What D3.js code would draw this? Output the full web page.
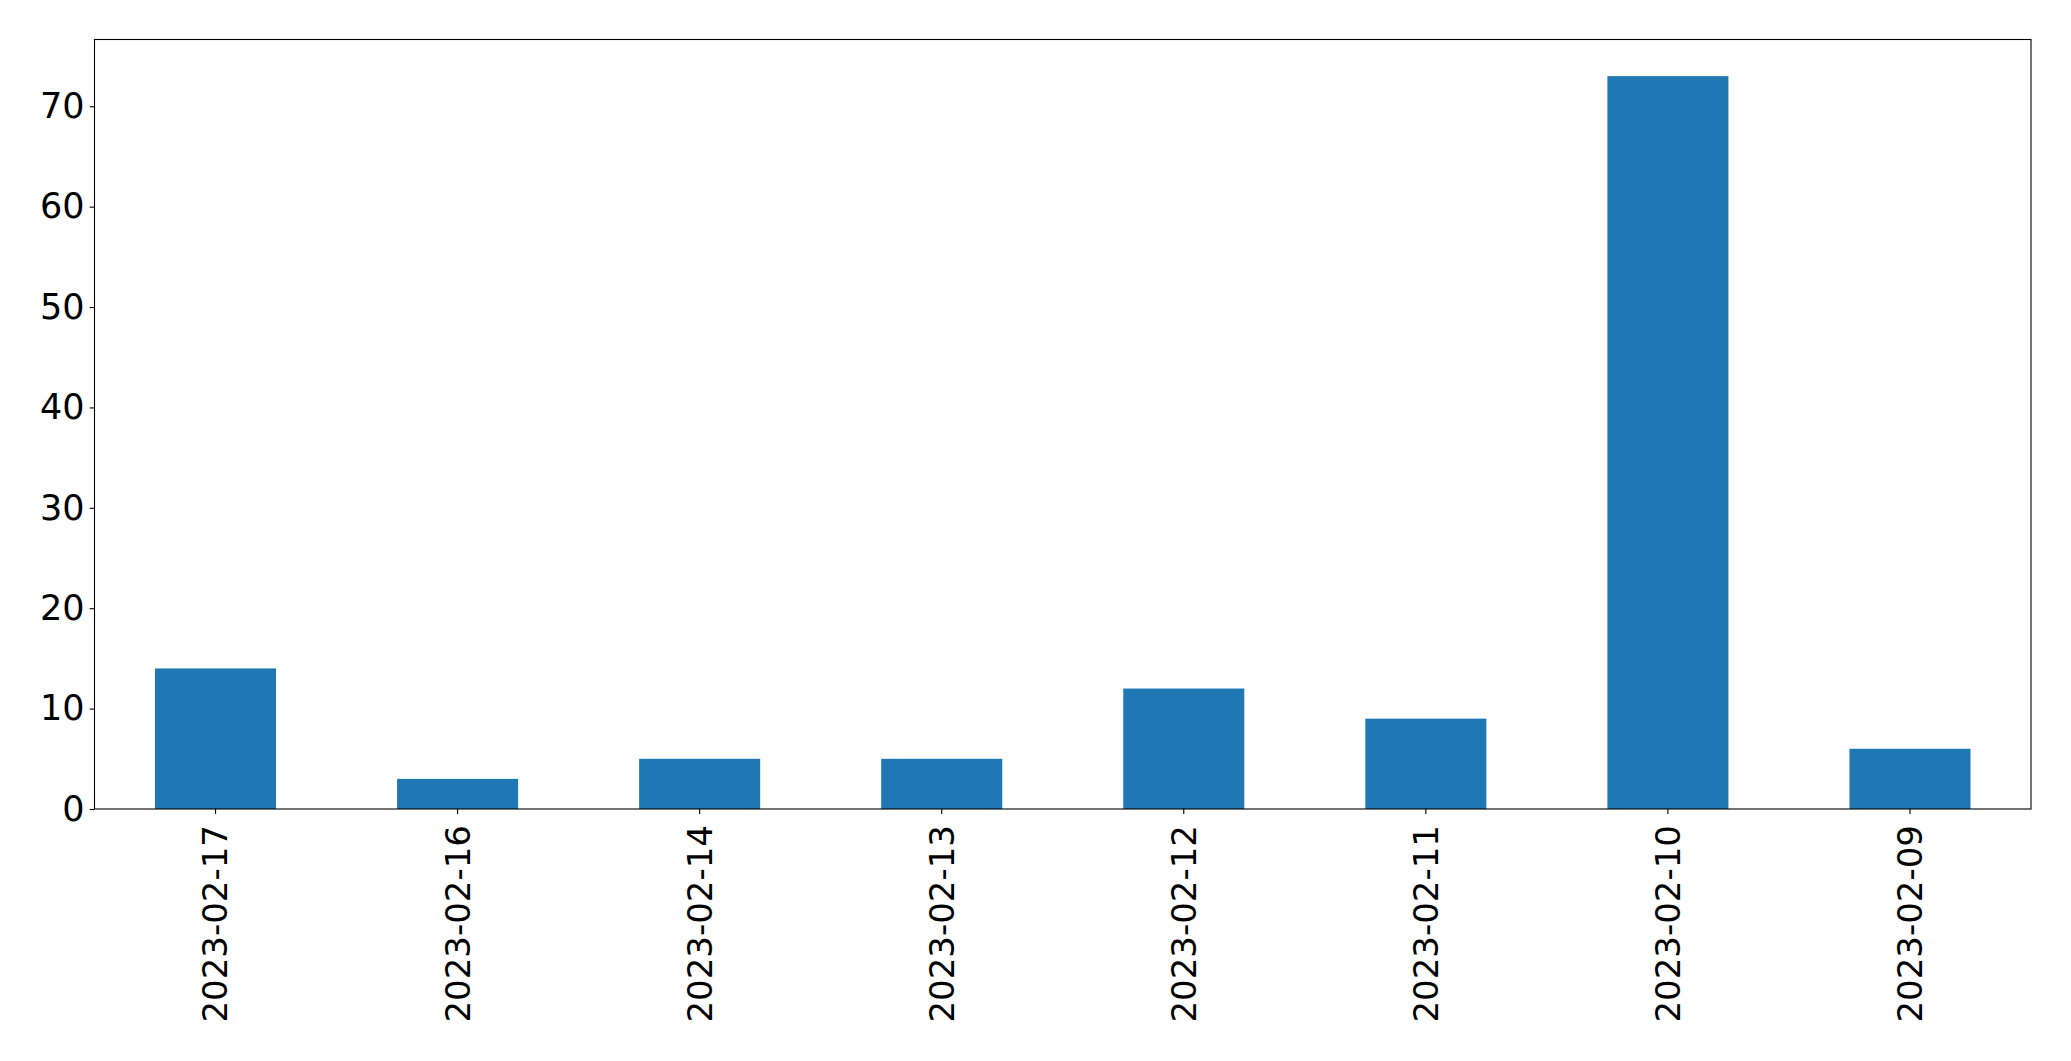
<!DOCTYPE html>
<html><head><meta charset="utf-8">
<script src="https://cdn.jsdelivr.net/npm/d3@7"></script>
<style>html,body{margin:0;padding:0;background:#fff;}</style>
</head><body>
<svg id="chart" width="2071" height="1061"></svg>
<script>
const categories = ["2023-02-17","2023-02-16","2023-02-14","2023-02-13","2023-02-12","2023-02-11","2023-02-10","2023-02-09"];
const values = [14, 3, 5, 5, 12, 9, 73, 6];
const yTicks = [0, 10, 20, 30, 40, 50, 60, 70];

const svg = d3.select("#chart");
const m = {left: 94.5, right: 2031, top: 39.5, bottom: 809};
const font = "DejaVu Sans, sans-serif";

const x = d3.scaleBand().domain(categories).range([m.left, m.right]).paddingInner(0.5).paddingOuter(0.25);
const y = d3.scaleLinear().domain([0, d3.max(values) * 1.05]).range([m.bottom, m.top]);

svg.append("g").selectAll("rect").data(values).join("rect")
  .attr("x", (d, i) => x(categories[i]))
  .attr("width", x.bandwidth())
  .attr("y", d => y(d))
  .attr("height", d => y(0) - y(d))
  .attr("fill", "#1f77b4");

const yAxis = svg.append("g").attr("transform", `translate(${m.left},0)`)
  .call(d3.axisLeft(y).tickValues(yTicks).tickSize(4.9).tickPadding(5));
yAxis.select(".domain").remove();
yAxis.selectAll("text").attr("font-family", font).attr("font-size", 35).attr("fill", "#000");
yAxis.selectAll("line").attr("stroke", "#000").attr("stroke-width", 1.1);

const xAxis = svg.append("g").attr("transform", `translate(0,${m.bottom})`)
  .call(d3.axisBottom(x).tickSize(4.9).tickPadding(0));
xAxis.select(".domain").remove();
xAxis.selectAll("line").attr("stroke", "#000").attr("stroke-width", 1.1);
xAxis.selectAll("text")
  .attr("font-family", font).attr("font-size", 34).attr("fill", "#000")
  .attr("transform", "rotate(-90)")
  .attr("x", -16).attr("y", 0).attr("dy", "0.35em")
  .attr("text-anchor", "end");

svg.append("rect").attr("x", m.left).attr("y", m.top)
  .attr("width", m.right - m.left).attr("height", m.bottom - m.top)
  .attr("fill", "none").attr("stroke", "#000").attr("stroke-width", 1.1);
</script>
</body></html>
